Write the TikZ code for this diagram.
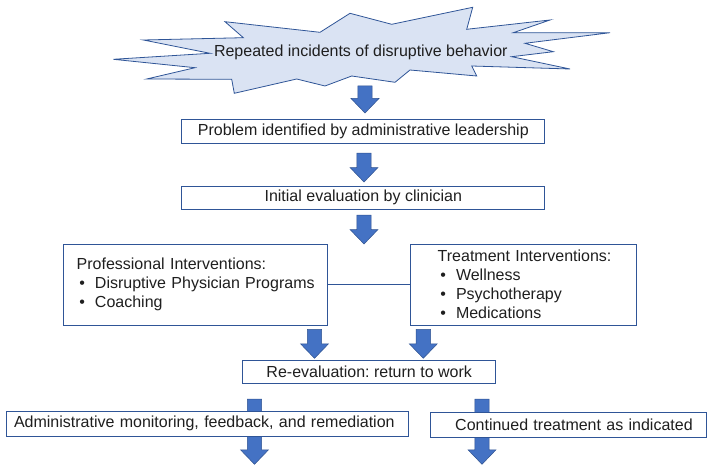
\documentclass[tikz,border=0pt]{standalone}
\usepackage{fontspec}
\setmainfont{Liberation Sans}
\frenchspacing
\definecolor{boxline}{HTML}{2F5597}
\definecolor{arrowfill}{HTML}{4472C4}
\definecolor{arrowline}{HTML}{2F528F}
\definecolor{starfill}{HTML}{DAE3F3}
\newcommand\myblockarrow[3]{% center x, top y, tip y
  \path[blockarrow] (#1-7.2,#2) -- (#1+7.2,#2) -- (#1+7.2,#3-14.5) -- (#1+14,#3-14.5) -- (#1,#3) -- (#1-14,#3-14.5) -- (#1-7.2,#3-14.5) -- cycle;}
\newcommand\mybul{\hspace*{2.6pt}\makebox[15.7pt][l]{•}}
\begin{document}
\begin{tikzpicture}[x=1pt,y=-1pt,
  txt/.style={font=\fontsize{16}{19}\selectfont\frenchspacing, text=black!88},
  box/.style={txt, draw=boxline, line width=1pt, fill=white, inner sep=0pt},
  blockarrow/.style={fill=arrowfill, draw=arrowline, line width=0.5pt, line join=miter}]
\useasboundingbox (0,0) rectangle (708,465);

% starburst
\draw[draw=boxline, fill=starfill, line width=0.8pt, line join=miter]
  (113.3,59.3) -- (210,53.3) -- (143.3,40) -- (243.3,37.7) -- (225,21.7) -- (320,32.3)
  -- (350,13.3) -- (391.7,24.3) -- (472.7,7.3) -- (466.7,29.3) -- (550,20) -- (513.3,32.7)
  -- (610,32.7) -- (525,43.3) -- (553.3,51.7) -- (511.7,56.7) -- (570,69) -- (471.7,66)
  -- (476.7,76) -- (410,70) -- (395,82.3) -- (351.7,76) -- (325,86) -- (296.7,79)
  -- (234.3,93.3) -- (231.7,79.3) -- (146.7,79) -- (195,67.7) -- cycle;
\node[txt] (star) at (360.8,52.5) {Repeated incidents of disruptive behavior};

\myblockarrow{365}{86}{113}
\node[box, minimum width=363pt, minimum height=24.3pt] (problem) at (363.3,131.2) {Problem identified by administrative leadership};

\myblockarrow{364}{153}{182}
\node[box, minimum width=363pt, minimum height=23.3pt] (initial) at (363.3,197.7) {Initial evaluation by clinician};

\myblockarrow{364}{215}{244}

\node[box, minimum width=264pt, minimum height=81pt, inner xsep=13.4pt, text width=237.2pt, align=left] (prof) at (195.3,284.5)
  {\mbox{Professional Interventions:}\\ \mbox{\mybul Disruptive Physician Programs}\\ \mbox{\mybul Coaching}};
\node[box, minimum width=226pt, minimum height=81pt, inner xsep=8pt, text width=210pt, align=left] (treat) at (523.7,284.5)
  {\mbox{\hspace*{19pt}Treatment Interventions:}\\ \mbox{\hspace*{19pt}\mybul Wellness}\\ \mbox{\hspace*{19pt}\mybul Psychotherapy}\\ \mbox{\hspace*{19pt}\mybul Medications}};
\draw[boxline, line width=1pt] (prof.east) -- (treat.west);

\myblockarrow{314.5}{329.3}{358.3}
\myblockarrow{423.3}{329.3}{358.3}
\node[box, minimum width=253pt, minimum height=22.6pt] (reeval) at (369.2,372) {Re-evaluation: return to work};

\myblockarrow{254.5}{399}{464.3}
\myblockarrow{482}{399}{464.3}
\node[box, minimum width=401.3pt, minimum height=25.7pt, inner xsep=7.3pt, text width=386.7pt, align=left] (admin) at (207.35,423.85)
  {\mbox{Administrative monitoring, feedback, and remediation}};
\node[box, minimum width=275.3pt, minimum height=25pt, inner xsep=13.3pt, text width=248.7pt, align=right] (cont) at (568.35,425.2)
  {\mbox{Continued treatment as indicated}};
\end{tikzpicture}
\end{document}
